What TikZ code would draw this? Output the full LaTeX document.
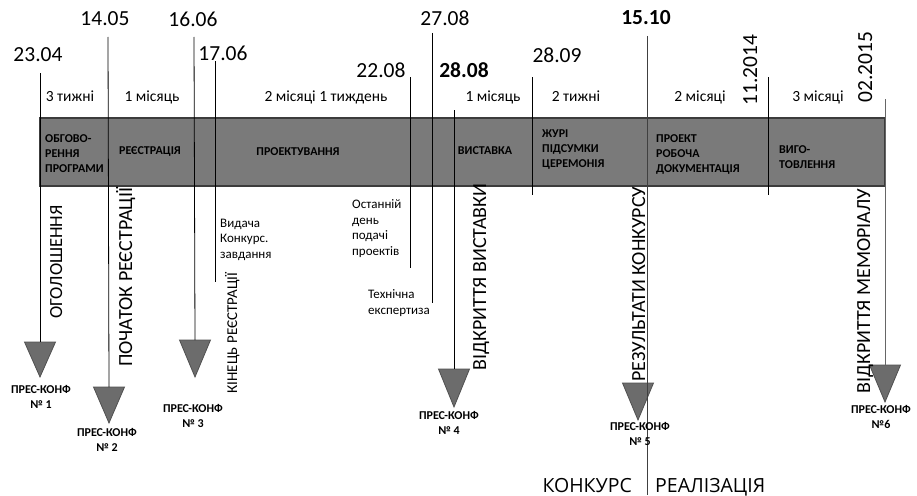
\documentclass[tikz,border=0pt]{standalone}
\usepackage{fontspec}
\setmainfont{Carlito}
\newfontfamily\widefont{Open Sans}
\definecolor{barfill}{RGB}{122,122,122}
\definecolor{barline}{RGB}{60,60,60}
\definecolor{trifill}{RGB}{108,108,108}
\definecolor{triline}{RGB}{80,80,80}
\begin{document}
\begin{tikzpicture}[x=1pt,y=-1pt,
  vline/.style={draw=black,line width=0.8pt},
  datelbl/.style={font=\fontsize{21.5}{24}\selectfont,inner sep=0pt},
  datebold/.style={font=\fontsize{21.5}{24}\selectfont\bfseries,inner sep=0pt},
  durlbl/.style={font=\fontsize{15.5}{18}\selectfont,inner sep=0pt,anchor=base},
  phase/.style={font=\fontsize{12}{15}\selectfont\bfseries,inner sep=0pt,align=left,anchor=base west},
  phasec/.style={font=\fontsize{12}{15}\selectfont\bfseries,inner sep=0pt,anchor=base},
  note/.style={font=\fontsize{13}{15.5}\selectfont,inner sep=0pt,align=left,anchor=base west},
  event/.style={font=\fontsize{20}{24}\selectfont,inner sep=0pt,rotate=90,anchor=base},
  eventsm/.style={font=\fontsize{15}{18}\selectfont,inner sep=0pt,rotate=90,anchor=base},
  press/.style={font=\fontsize{12}{14.5}\selectfont\bfseries,inner sep=0pt,align=center,anchor=base},
  bottomlbl/.style={font=\widefont\fontsize{19.5}{24}\selectfont,inner sep=0pt},
  tri/.style={fill=trifill,draw=triline,line width=0.8pt,line join=miter},
]
\fill[white] (0,0) rectangle (917,495);
\useasboundingbox (0,0) rectangle (917,495);

% bar
\node[draw=barline,fill=barfill,line width=2pt,minimum width=845pt,minimum height=68pt,
      anchor=north west,inner sep=0pt] (bar) at (39,117) {};

% line start coordinates
\coordinate (a1) at (40,73);
\coordinate (a2) at (108,37);
\coordinate (a3) at (194,37);
\coordinate (a4) at (215,61);
\coordinate (a5) at (410,77);
\coordinate (a6) at (432,33);
\coordinate (a7) at (454,110);
\coordinate (a8) at (532,77);
\coordinate (a9) at (647,36);
\coordinate (a10) at (768,77);
\coordinate (a11) at (885,99);
% line end coordinates
\coordinate (t1) at (40,342);
\coordinate (t2) at (109,387);
\coordinate (t3) at (195,340);
\coordinate (b4) at (215,282);
\coordinate (b5) at (410,268);
\coordinate (b6) at (432,303);
\coordinate (t4) at (454,369);
\coordinate (t5) at (638,383);
\coordinate (b8) at (532,195);
\coordinate (b9) at (647,495);
\coordinate (b10) at (768,195);
\coordinate (t6) at (885,365);

% triangles
\foreach \t/\h in {t1/35,t2/36,t3/37,t4/38,t5/37,t6/37}{
  \filldraw[tri] (\t) ++(-15.5,0) -- ++(31,0) -- ++(-15.5,\h) -- cycle;
}

% vertical lines
\draw[vline] (a1) -- (t1);
\draw[vline] (a2) -- (t2);
\draw[vline] (a3) -- (t3);
\draw[vline] (a4) -- (b4);
\draw[vline] (a5) -- (b5);
\draw[vline] (a6) -- (b6);
\draw[vline] (a7) -- (t4);
\draw[vline] (a8) -- (b8);
\draw[vline,draw=black!75] (a9) -- (b9);
\draw[vline] (a10) -- (b10);
\draw[vline,draw=black!60] (a11) -- (t6);

% dates
\node[datelbl] (d2304) at (38,55) {23.04};
\node[datelbl] (d1405) at (105,19) {14.05};
\node[datelbl] (d1606) at (193,19) {16.06};
\node[datelbl] (d1706) at (223,53) {17.06};
\node[datelbl] (d2208) at (381,70) {22.08};
\node[datelbl] (d2708) at (445,18) {27.08};
\node[datebold] (d2808) at (464,70) {28.08};
\node[datelbl] (d2809) at (557,55) {28.09};
\node[datebold] (d1510) at (646,18) {15.10};
\node[datelbl,rotate=90,anchor=base] (d1114) at (757,70) {11.2014};
\node[datelbl,rotate=90,anchor=base] (d0215) at (872,67) {02.2015};

% durations
\node[durlbl] (u1) at (70,101) {3 тижні};
\node[durlbl] (u2) at (152,101) {1 місяць};
\node[durlbl] (u3) at (326,101) {2 місяці 1 тиждень};
\node[durlbl] (u4) at (493,101) {1 місяць};
\node[durlbl] (u5) at (576,101) {2 тижні};
\node[durlbl] (u6) at (700,101) {2 місяці};
\node[durlbl] (u7) at (818,101) {3 місяці};

% phases in the bar (base = last line)
\node[phase] (p1) at (45,172) {ОБГОВО-\\РЕННЯ\\ПРОГРАМИ};
\node[phasec] (p2) at (150,154) {РЕЄСТРАЦІЯ};
\node[phasec] (p3) at (298,155) {ПРОЕКТУВАННЯ};
\node[phasec] (p4) at (485,154) {ВИСТАВКА};
\node[phase] (p5) at (542,167) {ЖУРІ\\ПІДСУМКИ\\ЦЕРЕМОНІЯ};
\node[phase] (p6) at (656,172) {ПРОЕКТ\\РОБОЧА\\ДОКУМЕНТАЦІЯ};
\node[phase] (p7) at (779,168) {ВИГО-\\ТОВЛЕННЯ};

% notes (base = last line)
\node[note] (n1) at (220,258) {Видача\\Конкурс.\\завдання};
\node[note] (n2) at (352,255) {Останній\\день\\подачі\\проектів};
\node[note] (n3) at (368,314) {Технічна\\експертиза};

% events
\node[event,font=\fontsize{18.5}{22}\selectfont] (e1) at (62,262) {ОГОЛОШЕННЯ};
\node[event] (e2) at (132,277) {ПОЧАТОК РЕЄСТРАЦІЇ};
\node[eventsm] (e3) at (237,333) {КІНЕЦЬ РЕЄСТРАЦІЇ};
\node[event] (e4) at (486,277) {ВІДКРИТТЯ ВИСТАВКИ};
\node[event] (e5) at (645,284) {РЕЗУЛЬТАТИ КОНКУРСУ};
\node[event] (e6) at (870,291) {ВІДКРИТТЯ МЕМОРІАЛУ};

% press conferences (base = last line)
\node[press] (c1) at (41,408) {ПРЕС-КОНФ\\№ 1};
\node[press] (c2) at (107,451) {ПРЕС-КОНФ\\№ 2};
\node[press] (c3) at (193,427) {ПРЕС-КОНФ\\№ 3};
\node[press] (c4) at (449,434) {ПРЕС-КОНФ\\№ 4};
\node[press] (c5) at (640,445) {ПРЕС-КОНФ\\№ 5};
\node[press] (c6) at (881,428) {ПРЕС-КОНФ\\№6};

% bottom labels
\node[bottomlbl,anchor=base east] (konk) at (632,492) {КОНКУРС};
\node[bottomlbl,anchor=base west] (real) at (655,492) {РЕАЛІЗАЦІЯ};
\end{tikzpicture}
\end{document}
